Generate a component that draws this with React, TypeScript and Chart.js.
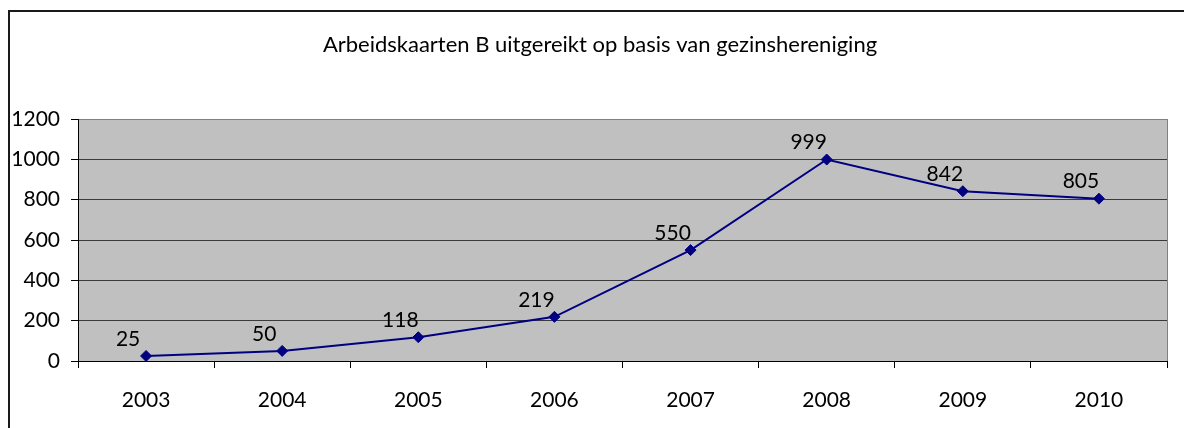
import React, { useEffect, useRef } from "react";
import { Chart, registerables } from "chart.js";

Chart.register(...registerables);

const categories = ["2003", "2004", "2005", "2006", "2007", "2008", "2009", "2010"];
const values = [25, 50, 118, 219, 550, 999, 842, 805];
const yMin = 0;
const yMax = 1200;
const yStep = 200;
const chartTitle = "Arbeidskaarten B uitgereikt op basis van gezinshereniging";

export default function App() {
  const ref = useRef<HTMLCanvasElement>(null);

  useEffect(() => {
    if (!ref.current) return;
    Chart.defaults.font.family = "Lato";

    const plotBg = {
      id: "plotBg",
      beforeDraw(chart: any) {
        const { ctx, chartArea: a } = chart;
        ctx.save();
        ctx.fillStyle = "#C0C0C0";
        ctx.fillRect(a.left, a.top, a.right - a.left, a.bottom - a.top);
        ctx.restore();
      },
    };

    const frame = {
      id: "frame",
      afterDraw(chart: any) {
        const { ctx, chartArea: a, width, height } = chart;
        ctx.save();
        ctx.fillStyle = "#1a1a1a";
        ctx.fillRect(0, 2, 2, height - 2);
        ctx.fillRect(0, 2, width, 2);
        ctx.strokeStyle = "#808080";
        ctx.lineWidth = 1;
        ctx.beginPath();
        const rx = Math.round(a.right) + 0.5;
        ctx.moveTo(rx, a.top);
        ctx.lineTo(rx, a.bottom);
        ctx.stroke();
        ctx.restore();
      },
    };

    const dataLabels = {
      id: "dataLabels",
      afterDatasetsDraw(chart: any) {
        const { ctx } = chart;
        const meta = chart.getDatasetMeta(0);
        ctx.save();
        ctx.fillStyle = "#000000";
        ctx.font = "21px Lato";
        ctx.textAlign = "center";
        ctx.textBaseline = "middle";
        meta.data.forEach((pt: any, i: number) => {
          ctx.fillText(String(values[i]), pt.x - 18, pt.y - 17);
        });
        ctx.restore();
      },
    };

    const chart = new Chart(ref.current, {
      type: "line",
      data: {
        labels: categories,
        datasets: [
          {
            data: values,
            borderColor: "#000080",
            backgroundColor: "#000080",
            borderWidth: 2,
            pointStyle: "rectRot",
            pointRadius: 5.5,
            pointBackgroundColor: "#000080",
            pointBorderColor: "#000080",
            pointBorderWidth: 1,
            tension: 0,
            fill: false,
          },
        ],
      },
      options: {
        responsive: false,
        animation: false,
        layout: { padding: 0 },
        plugins: {
          legend: { display: false },
          tooltip: { enabled: false },
          title: {
            display: true,
            text: chartTitle,
            color: "#000000",
            font: { family: "Lato", size: 22, weight: "normal" },
            padding: { top: 24, bottom: 60.6 },
          },
        },
        scales: {
          x: {
            type: "category",
            offset: true,
            grid: {
              offset: true,
              drawOnChartArea: false,
              drawTicks: true,
              tickLength: 7,
              color: "#000000",
            },
            border: { color: "#000000", width: 1 },
            ticks: {
              color: "#000000",
              font: { family: "Lato", size: 21 },
              padding: 20,
              maxRotation: 0,
              autoSkip: false,
            },
            afterFit(scale: any) {
              scale.height = 67;
            },
          },
          y: {
            min: yMin,
            max: yMax,
            grid: {
              color: (c: any) => (c.tick && c.tick.value === yMax ? "#808080" : "#3a3a3a"),
              tickColor: "#000000",
              tickLength: 7,
              lineWidth: 1,
            },
            border: { color: "#000000", width: 1 },
            ticks: {
              stepSize: yStep,
              color: "#000000",
              font: { family: "Lato", size: 21 },
              padding: 11,
              callback: (v: any) => String(v),
            },
            afterFit(scale: any) {
              scale.width = 70;
            },
          },
          yRight: {
            position: "right",
            display: true,
            grid: { display: false, drawTicks: false },
            border: { display: false },
            ticks: { display: false },
            afterFit(scale: any) {
              scale.width = 25;
            },
          },
        },
      },
      plugins: [plotBg, frame, dataLabels],
    } as any);

    return () => chart.destroy();
  }, []);

  return (
    <div style={{ width: 1184, height: 420 }}>
      <canvas ref={ref} width={1184} height={420} style={{ display: "block" }} />
    </div>
  );
}
